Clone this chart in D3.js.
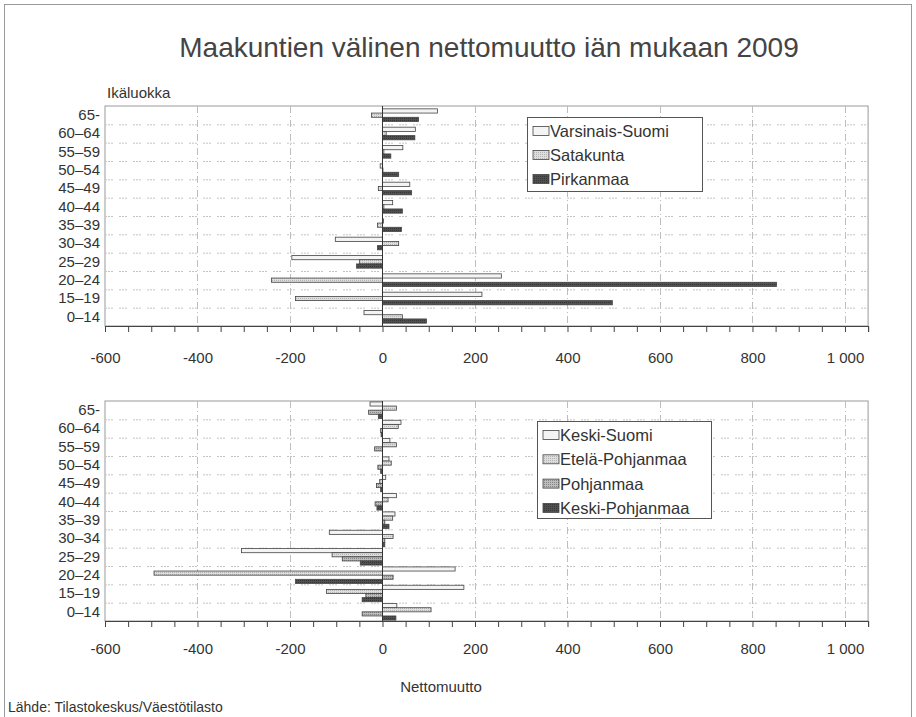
<!DOCTYPE html>
<html>
<head>
<meta charset="utf-8">
<script src="https://cdn.jsdelivr.net/npm/d3@7"></script>
<style>
  body { margin: 0; background: #fff; }
  text { font-family: "Liberation Sans", Arial, sans-serif; fill: #333; }
</style>
</head>
<body>
<svg id="chart" width="916" height="717"></svg>
<script>
// Age groups, top to bottom as in the chart
const ageGroups = ["65-", "60–64", "55–59", "50–54", "45–49", "40–44", "35–39", "30–34", "25–29", "20–24", "15–19", "0–14"];

// Top panel
const topSeries = ["Varsinais-Suomi", "Satakunta", "Pirkanmaa"];
const varsinaisSuomi = [119, 71, 44, -5, 59, 22, 2, -102, -196, 257, 215, -40];
const satakunta = [-24, 8, 3, 1, -9, 3, -11, 35, -50, -240, -188, 43];
const pirkanmaa = [78, 70, 18, 35, 63, 43, 41, -11, -56, 852, 497, 95];

// Bottom panel
const bottomSeries = ["Keski-Suomi", "Etelä-Pohjanmaa", "Pohjanmaa", "Keski-Pohjanmaa"];
const keskiSuomi = [-27, 40, 16, 14, 7, 30, 27, -115, -305, 157, 176, 31];
const etelaPohjanmaa = [30, 34, 30, 19, -6, 12, 22, 23, -109, -494, -121, 105];
const pohjanmaa = [-30, -4, -17, -10, -13, -16, 5, 5, -87, 23, -36, -44];
const keskiPohjanmaa = [-9, -3, 0, -4, -4, -12, 14, 5, -48, -188, -44, 29];

// x axis
const xTicks = [-600, -400, -200, 0, 200, 400, 600, 800, 1000];

let svg = d3.select("#chart");

// outer frame
svg.append("rect")
  .attr("x", 4.5).attr("y", 4.5)
  .attr("width", 907).attr("height", 730)
  .attr("fill", "none")
  .attr("stroke", "#999");

// fill patterns (dotted greys like the printed original)
let defs = svg.append("defs");
function dotPattern(id, bg, dot) {
  let p = defs.append("pattern")
    .attr("id", id)
    .attr("width", 2).attr("height", 2)
    .attr("patternUnits", "userSpaceOnUse");
  p.append("rect").attr("width", 2).attr("height", 2).attr("fill", bg);
  p.append("rect").attr("width", 1).attr("height", 1).attr("fill", dot);
}
dotPattern("dotLight", "#dedede", "#b4b4b4");
dotPattern("dotMid", "#bdbdbd", "#858585");
dotPattern("dotDark", "#505050", "#363636");

let fmt = d3.formatLocale({ decimal: ",", thousands: "\u00a0", grouping: [3], currency: ["", ""], minus: "-" }).format(",");

let x = d3.scaleLinear()
  .domain([-600, 1050])
  .range([105, 868.1]);

svg.append("text")
  .attr("x", 489).attr("y", 57)
  .attr("text-anchor", "middle")
  .style("font-size", "28px")
  .style("fill", "#444")
  .text("Maakuntien välinen nettomuutto iän mukaan 2009");

svg.append("text")
  .attr("x", 107).attr("y", 98)
  .style("font-size", "15px")
  .text("Ikäluokka");

function drawPanel(top, bottom, names, values, fills, padInner, legend, labelPad) {
  let g = svg.append("g");

  let yGrid = d3.scaleBand().domain(ageGroups).range([top, bottom]).padding(0);
  let y = d3.scaleBand().domain(ageGroups).range([top, bottom])
    .paddingInner(padInner).paddingOuter(padInner / 2);
  let ySeries = d3.scaleBand().domain(names).range([0, y.bandwidth()]);

  // plot border
  g.append("rect")
    .attr("x", x.range()[0]).attr("y", top)
    .attr("width", x.range()[1] - x.range()[0]).attr("height", bottom - top)
    .attr("fill", "none")
    .attr("stroke", "#999");

  // horizontal grid between age groups
  g.selectAll(".hgrid")
    .data(ageGroups.slice(1))
    .enter()
    .append("line")
    .attr("x1", x.range()[0]).attr("x2", x.range()[1])
    .attr("y1", d => yGrid(d) + 0.5).attr("y2", d => yGrid(d) + 0.5)
    .attr("stroke", "#c4c4c4")
    .attr("stroke-dasharray", "2,1,2,1,2,6");

  // vertical grid
  g.selectAll(".vgrid")
    .data(xTicks.filter(d => d !== 0 && d !== -600))
    .enter()
    .append("line")
    .attr("x1", d => Math.round(x(d)) + 0.5).attr("x2", d => Math.round(x(d)) + 0.5)
    .attr("y1", top).attr("y2", bottom)
    .attr("stroke", "#bdbdbd")
    .attr("stroke-dasharray", "7,3,1,3");

  // bars
  names.forEach((name, i) => {
    g.selectAll(".bar" + i)
      .data(values[i].map((v, j) => ({ age: ageGroups[j], value: v })))
      .enter()
      .append("rect")
      .attr("x", d => x(Math.min(0, d.value)))
      .attr("y", d => y(d.age) + ySeries(name))
      .attr("width", d => Math.abs(x(d.value) - x(0)))
      .attr("height", ySeries.bandwidth())
      .attr("fill", fills[i])
      .attr("stroke", "#444")
      .attr("stroke-width", 0.8);
  });

  // zero line
  g.append("line")
    .attr("x1", x(0)).attr("x2", x(0))
    .attr("y1", top).attr("y2", bottom)
    .attr("stroke", "#333");

  // y labels
  g.append("g")
    .attr("transform", "translate(" + x.range()[0] + ",0)")
    .call(d3.axisLeft(yGrid).tickSize(0).tickPadding(5))
    .call(a => a.select(".domain").remove())
    .selectAll("text")
    .style("font-size", "15px")
    .style("fill", "#333");

  // x axis with minor ticks every 50
  let xAxis = g.append("g")
    .attr("transform", "translate(0," + bottom + ")")
    .call(d3.axisBottom(x)
      .tickValues(d3.range(-600, 1051, 50))
      .tickSize(6)
      .tickPadding(labelPad)
      .tickFormat(d => xTicks.includes(d) ? fmt(d) : ""));
  xAxis.select(".domain").attr("stroke", "#444");
  xAxis.selectAll("line").attr("stroke", "#444");
  xAxis.selectAll("text").style("font-size", "15px").style("fill", "#333");

  // legend
  let lg = g.append("g");
  lg.append("rect")
    .attr("x", legend.x + 0.5).attr("y", legend.y + 0.5)
    .attr("width", legend.w).attr("height", legend.h)
    .attr("fill", "#fff")
    .attr("stroke", "#555");
  names.forEach((name, i) => {
    let cy = legend.y + legend.first + i * legend.step;
    lg.append("rect")
      .attr("x", legend.x + 6).attr("y", cy - 4.5)
      .attr("width", 16).attr("height", 9)
      .attr("fill", fills[i])
      .attr("stroke", "#444")
      .attr("stroke-width", 0.8);
    lg.append("text")
      .attr("x", legend.x + 23).attr("y", cy + 6)
      .style("font-size", "16.5px")
      .text(name);
  });
}

drawPanel(106, 326, topSeries, [varsinaisSuomi, satakunta, pirkanmaa],
  ["#f4f4f4", "url(#dotLight)", "url(#dotDark)"], 0.31,
  { x: 527, y: 117, w: 175, h: 74, first: 14, step: 24 }, 20);

drawPanel(401, 621, bottomSeries, [keskiSuomi, etelaPohjanmaa, pohjanmaa, keskiPohjanmaa],
  ["#f4f4f4", "url(#dotLight)", "url(#dotMid)", "url(#dotDark)"], 0.1,
  { x: 537, y: 421, w: 174, h: 97, first: 14, step: 24.3 }, 16);

svg.append("text")
  .attr("x", 441).attr("y", 692)
  .attr("text-anchor", "middle")
  .style("font-size", "15px")
  .text("Nettomuutto");

svg.append("text")
  .attr("x", 8).attr("y", 712)
  .style("font-size", "14px")
  .text("Lähde: Tilastokeskus/Väestötilasto");
</script>
</body>
</html>
